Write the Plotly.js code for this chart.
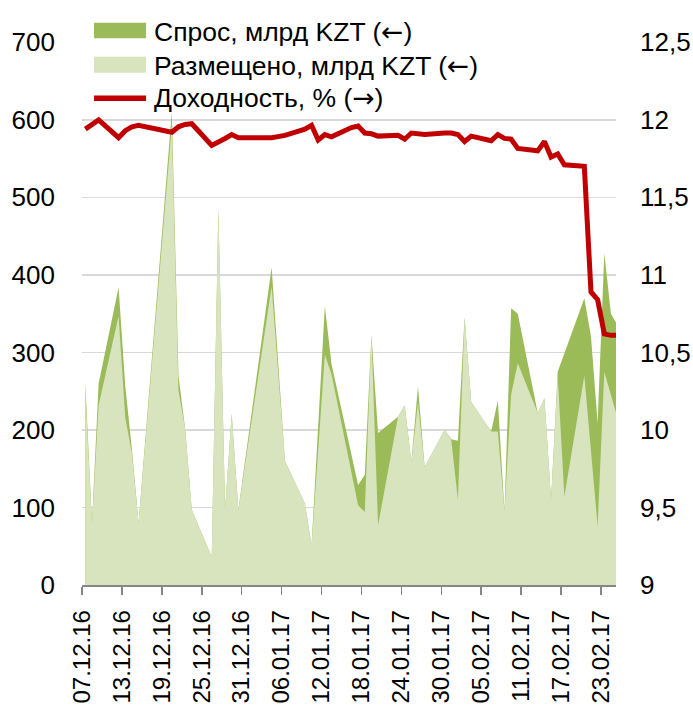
<!DOCTYPE html>
<html>
<head>
<meta charset="utf-8">
<script src="https://cdn.plot.ly/plotly-3.0.1.min.js"></script>
<style>
  html, body { margin: 0; padding: 0; background: #fff; }
  #chartContainer { width: 693px; height: 706px; }
</style>
</head>
<body>
<div id="chartContainer"></div>
<script>
// auction dates and volumes, bn KZT (left axis)
var aucDates = ['07.12.16', '08.12.16', '09.12.16', '12.12.16', '13.12.16', '14.12.16', '15.12.16',
    '20.12.16', '21.12.16', '22.12.16', '23.12.16', '26.12.16', '27.12.16', '28.12.16', '29.12.16', '30.12.16',
    '04.01.17', '06.01.17', '09.01.17', '10.01.17', '12.01.17', '13.01.17', '17.01.17', '18.01.17', '19.01.17',
    '20.01.17', '23.01.17', '24.01.17', '25.01.17', '26.01.17', '27.01.17', '30.01.17', '31.01.17', '01.02.17',
    '02.02.17', '03.02.17', '06.02.17', '07.02.17', '08.02.17', '09.02.17', '10.02.17', '13.02.17', '14.02.17',
    '15.02.17', '16.02.17', '17.02.17', '20.02.17', '21.02.17', '22.02.17', '23.02.17', '24.02.17', '27.02.17'];
var demand = [260, 80, 260, 384, 257, 175, 80,
    610, 270, 202, 97, 36, 486, 98, 221, 97,
    410, 160, 105, 51, 360, 285, 129, 142, 322,
    196, 217, 232, 159, 256, 152, 200, 188, 186,
    345, 236, 198, 238, 95, 357, 350, 222, 241,
    110, 275, 299, 370, 321, 209, 428, 350, 305];
var placed = [250, 80, 232, 347, 216, 170, 80,
    592, 251, 202, 97, 36, 486, 98, 221, 97,
    385, 160, 105, 51, 297, 272, 103, 94, 322,
    77, 217, 232, 159, 235, 152, 200, 187, 110,
    345, 236, 198, 198, 95, 246, 286, 222, 241,
    110, 270, 114, 270, 175, 76, 275, 245, 155];

// yield, % (right axis)
var yieldDates = ['07.12.16', '08.12.16', '09.12.16', '12.12.16', '13.12.16', '14.12.16', '15.12.16',
    '20.12.16', '21.12.16', '22.12.16', '23.12.16', '26.12.16', '27.12.16', '28.12.16', '29.12.16', '30.12.16',
    '04.01.17', '06.01.17', '09.01.17', '10.01.17', '11.01.17', '12.01.17', '13.01.17', '16.01.17', '17.01.17',
    '18.01.17', '19.01.17', '20.01.17', '23.01.17', '24.01.17', '25.01.17', '26.01.17', '27.01.17', '30.01.17',
    '31.01.17', '01.02.17', '02.02.17', '03.02.17', '06.02.17', '07.02.17', '08.02.17', '09.02.17', '10.02.17',
    '13.02.17', '14.02.17', '15.02.17', '16.02.17', '17.02.17', '20.02.17', '21.02.17', '22.02.17', '23.02.17',
    '24.02.17', '27.02.17'];
var yieldPct = [11.94, 11.975, 12.0, 11.885, 11.93, 11.955, 11.965,
    11.92, 11.955, 11.97, 11.975, 11.835, 11.855, 11.88, 11.905, 11.885,
    11.885, 11.9, 11.94, 11.965, 11.87, 11.905, 11.89, 11.95, 11.96,
    11.915, 11.91, 11.895, 11.9, 11.875, 11.915, 11.91, 11.905, 11.915,
    11.915, 11.905, 11.86, 11.895, 11.865, 11.905, 11.88, 11.875, 11.815,
    11.8, 11.86, 11.76, 11.78, 11.71, 11.70, 10.89, 10.84, 10.62,
    10.61, 10.61];

var tickLabels = ['07.12.16', '13.12.16', '19.12.16', '25.12.16', '31.12.16', '06.01.17', '12.01.17',
    '18.01.17', '24.01.17', '30.01.17', '05.02.17', '11.02.17', '17.02.17', '23.02.17'];

var legendNames = ['Спрос, млрд KZT (←)', 'Размещено, млрд KZT (←)', 'Доходность, % (→)'];

var FONT = 'Liberation Sans, Arial, sans-serif';
var DARK = '#9bbb59', LIGHT = '#d7e4bd', RED = '#c00000';

function toMs(s) {
    var p = s.split('.');
    return Date.UTC(2000 + +p[2], +p[1] - 1, +p[0]);
}
function fmt(ms) {
    return new Date(ms).toISOString().slice(0, 16).replace('T', ' ');
}
// each day is a slot, tick marks sit on slot edges (half a day before the date)
var HALF = 12 * 3600 * 1000;
var xs = aucDates.map(function (d) { return fmt(toMs(d)); });
var yxs = yieldDates.map(function (d) { return fmt(toMs(d)); });
var tickVals = tickLabels.map(function (d) { return fmt(toMs(d) - HALF); });

var traceDemand = {
    x: xs, y: demand, type: 'scatter', mode: 'lines',
    fill: 'tozeroy', fillcolor: DARK,
    line: { width: 0, color: DARK },
    name: legendNames[0]
};
var tracePlaced = {
    x: xs, y: placed, type: 'scatter', mode: 'lines',
    fill: 'tozeroy', fillcolor: LIGHT,
    line: { width: 0, color: LIGHT },
    name: legendNames[1]
};
var traceYield = {
    x: yxs, y: yieldPct, type: 'scatter', mode: 'lines',
    yaxis: 'y2',
    line: { width: 5, color: RED },
    name: legendNames[2]
};

// legend drawn by hand so the swatches look like the original;
// the arrows get a font with a wider arrow glyph
function legendText(t) {
    return t.replace(/([←→])/g, '<span style="font-family:DejaVu Sans">$1</span>');
}
var legX0 = 0.0225, legX1 = 0.12, legTx = 0.131;
var shapes = [
    { type: 'rect', xref: 'paper', yref: 'paper', x0: legX0, x1: legX1, y0: 1.0068, y1: 1.0355,
      fillcolor: DARK, line: { width: 0 } },
    { type: 'rect', xref: 'paper', yref: 'paper', x0: legX0, x1: legX1, y0: 0.9435, y1: 0.973,
      fillcolor: LIGHT, line: { width: 0 } },
    { type: 'line', xref: 'paper', yref: 'paper', x0: legX0, x1: legX1, y0: 0.8963, y1: 0.8963,
      line: { width: 5.5, color: RED } }
];
var legY = [1.020, 0.9576, 0.8969];
var annotations = legendNames.map(function (t, i) {
    return {
        xref: 'paper', yref: 'paper', x: legTx, y: legY[i],
        xanchor: 'left', yanchor: 'middle', showarrow: false,
        text: legendText(t), font: { family: FONT, size: 26.5, color: '#000' }
    };
});

var layout = {
    width: 693, height: 706,
    margin: { l: 82, r: 77, t: 42, b: 121 },
    paper_bgcolor: '#fff', plot_bgcolor: '#fff',
    separators: ', ',
    showlegend: false,
    font: { family: FONT, size: 26, color: '#000' },
    xaxis: {
        type: 'date',
        range: ['2016-12-06 12:00', '2017-02-24 18:15'],
        tickmode: 'array', tickvals: tickVals, ticktext: tickLabels,
        tickangle: -90,
        showgrid: false, zeroline: false,
        showline: true, linecolor: '#868686', linewidth: 1.5,
        ticks: 'outside', ticklen: 8, tickcolor: '#868686', tickwidth: 1.5,
        ticklabelstandoff: 6,
        tickfont: { family: FONT, size: 24, color: '#000' }
    },
    yaxis: {
        range: [0, 700.4], dtick: 100,
        showgrid: true, gridcolor: '#d9d9d9', gridwidth: 1.5,
        zeroline: false, showline: false, ticks: '',
        ticklabelstandoff: 26,
        tickfont: { family: FONT, size: 26, color: '#000' }
    },
    yaxis2: {
        overlaying: 'y', side: 'right',
        range: [9, 12.502], dtick: 0.5,
        showgrid: false, zeroline: false, showline: false, ticks: '',
        ticklabelstandoff: 23,
        tickfont: { family: FONT, size: 26, color: '#000' }
    },
    shapes: shapes,
    annotations: annotations
};

Plotly.newPlot('chartContainer', [traceDemand, tracePlaced, traceYield], layout, { staticPlot: true });
</script>
</body>
</html>
